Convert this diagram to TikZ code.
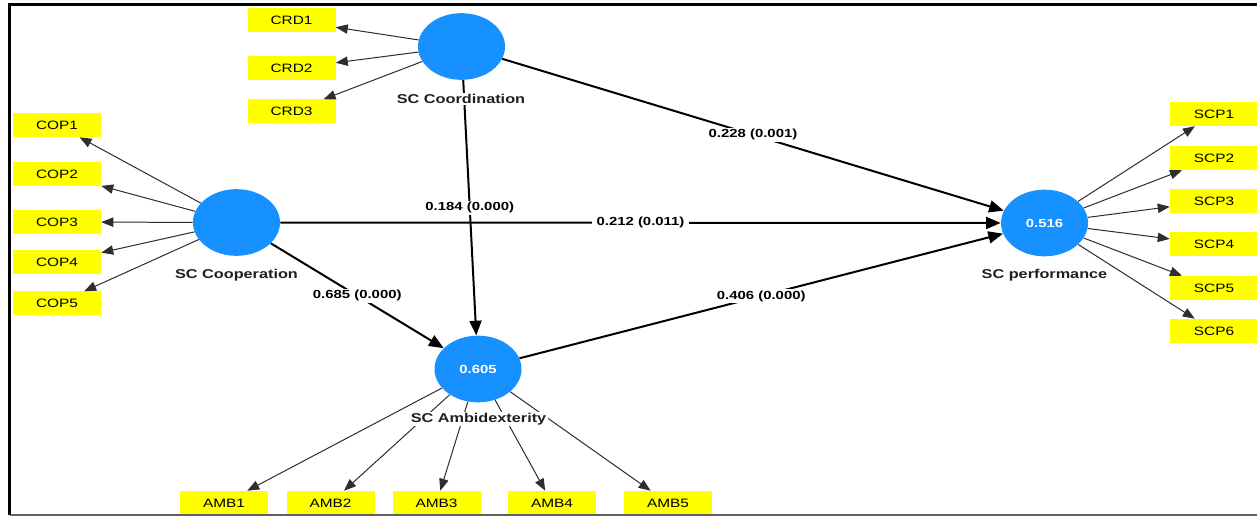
\documentclass[tikz,border=0pt]{standalone}
\usepackage{fontspec}
\setmainfont{Liberation Sans}[FakeStretch=1.27]
\usetikzlibrary{arrows.meta,shapes.geometric}
\definecolor{lvblue}{RGB}{22,145,255}
\definecolor{indy}{RGB}{255,255,0}
\begin{document}
\begin{tikzpicture}[x=0.75pt,y=-0.75pt,
 lv/.style={ellipse, fill=lvblue, minimum width=65.25pt, minimum height=50pt, inner sep=0pt, text=white, font=\fontsize{8.8}{10}\selectfont\bfseries},
 ind/.style={rectangle, fill=indy, minimum width=66pt, minimum height=18pt, inner sep=0pt, font=\fontsize{9.1}{10}\selectfont},
 lvname/.style={fill=white, inner sep=1pt, font=\fontsize{9.6}{11}\selectfont\bfseries, text=black!88},
 load/.style={draw=black!82, line width=0.75pt, -{Triangle[length=9pt,width=7pt]}},
 struct/.style={draw=black, line width=1.5pt, -{Triangle[length=11pt,width=9pt]}},
 coef/.style={fill=white, inner xsep=3.5pt, inner ysep=1pt, font=\fontsize{8.8}{10}\selectfont\bfseries}
]
\useasboundingbox (0,0) rectangle (1257,516);
\fill[white] (0,0) rectangle (1257,516);

% latent variables
\node[lv] (crd) at (461.5,46.5) {};
\node[lv] (cop) at (236.5,222.5) {};
\node[lv] (amb) at (478,369) {0.605};
\node[lv] (scp) at (1044.5,223) {0.516};

% indicators
\node[ind] (crd1) at (291.5,20.5) {CRD1};
\node[ind] (crd2) at (291.5,68.5) {CRD2};
\node[ind] (crd3) at (291.5,111.5) {CRD3};

\node[ind] (cop1) at (57,125) {COP1};
\node[ind] (cop2) at (57,174) {COP2};
\node[ind] (cop3) at (57,222) {COP3};
\node[ind] (cop4) at (57,262.5) {COP4};
\node[ind] (cop5) at (57,303.5) {COP5};

\node[ind] (scp1) at (1214,114) {SCP1};
\node[ind] (scp2) at (1214,158) {SCP2};
\node[ind] (scp3) at (1214,201) {SCP3};
\node[ind] (scp4) at (1214,244.5) {SCP4};
\node[ind] (scp5) at (1214,288) {SCP5};
\node[ind] (scp6) at (1214,331) {SCP6};

\node[ind] (amb1) at (224,503) {AMB1};
\node[ind] (amb2) at (330.5,503) {AMB2};
\node[ind] (amb3) at (436.5,503) {AMB3};
\node[ind] (amb4) at (552,503) {AMB4};
\node[ind] (amb5) at (668,503) {AMB5};

% loadings
\foreach \i in {1,2,3} \draw[load] (crd) -- (crd\i);
\foreach \i in {1,...,5} \draw[load] (cop) -- (cop\i);
\foreach \i in {1,...,6} \draw[load] (scp) -- (scp\i);
\foreach \i in {1,...,5} \draw[load] (amb) -- (amb\i);

% structural paths
\draw[struct] (crd) -- (scp) node[coef, midway] {0.228 (0.001)};
\draw[struct] (cop) -- (scp) node[coef, midway] {0.212 (0.011)};
\draw[struct] (cop) -- (amb) node[coef, midway] {0.685 (0.000)};
\draw[struct] (amb) -- (scp) node[coef, midway] {0.406 (0.000)};
\draw[struct] (crd) -- (amb) node[coef, midway] {0.184 (0.000)};

% construct names
\node[lvname] (crdname) at (461,99) {SC Coordination};
\node[lvname] (copname) at (236.5,275) {SC Cooperation};
\node[lvname] (ambname) at (478.5,419) {SC Ambidexterity};
\node[lvname] (scpname) at (1044.5,275) {SC performance};

% frame
\draw[line width=1.9pt] (1257,4.5) -- (9.5,4.5) -- (9.5,515);
\draw[black!62, line width=1.1pt] (9.5,515) -- (1257,515);
\end{tikzpicture}
\end{document}
